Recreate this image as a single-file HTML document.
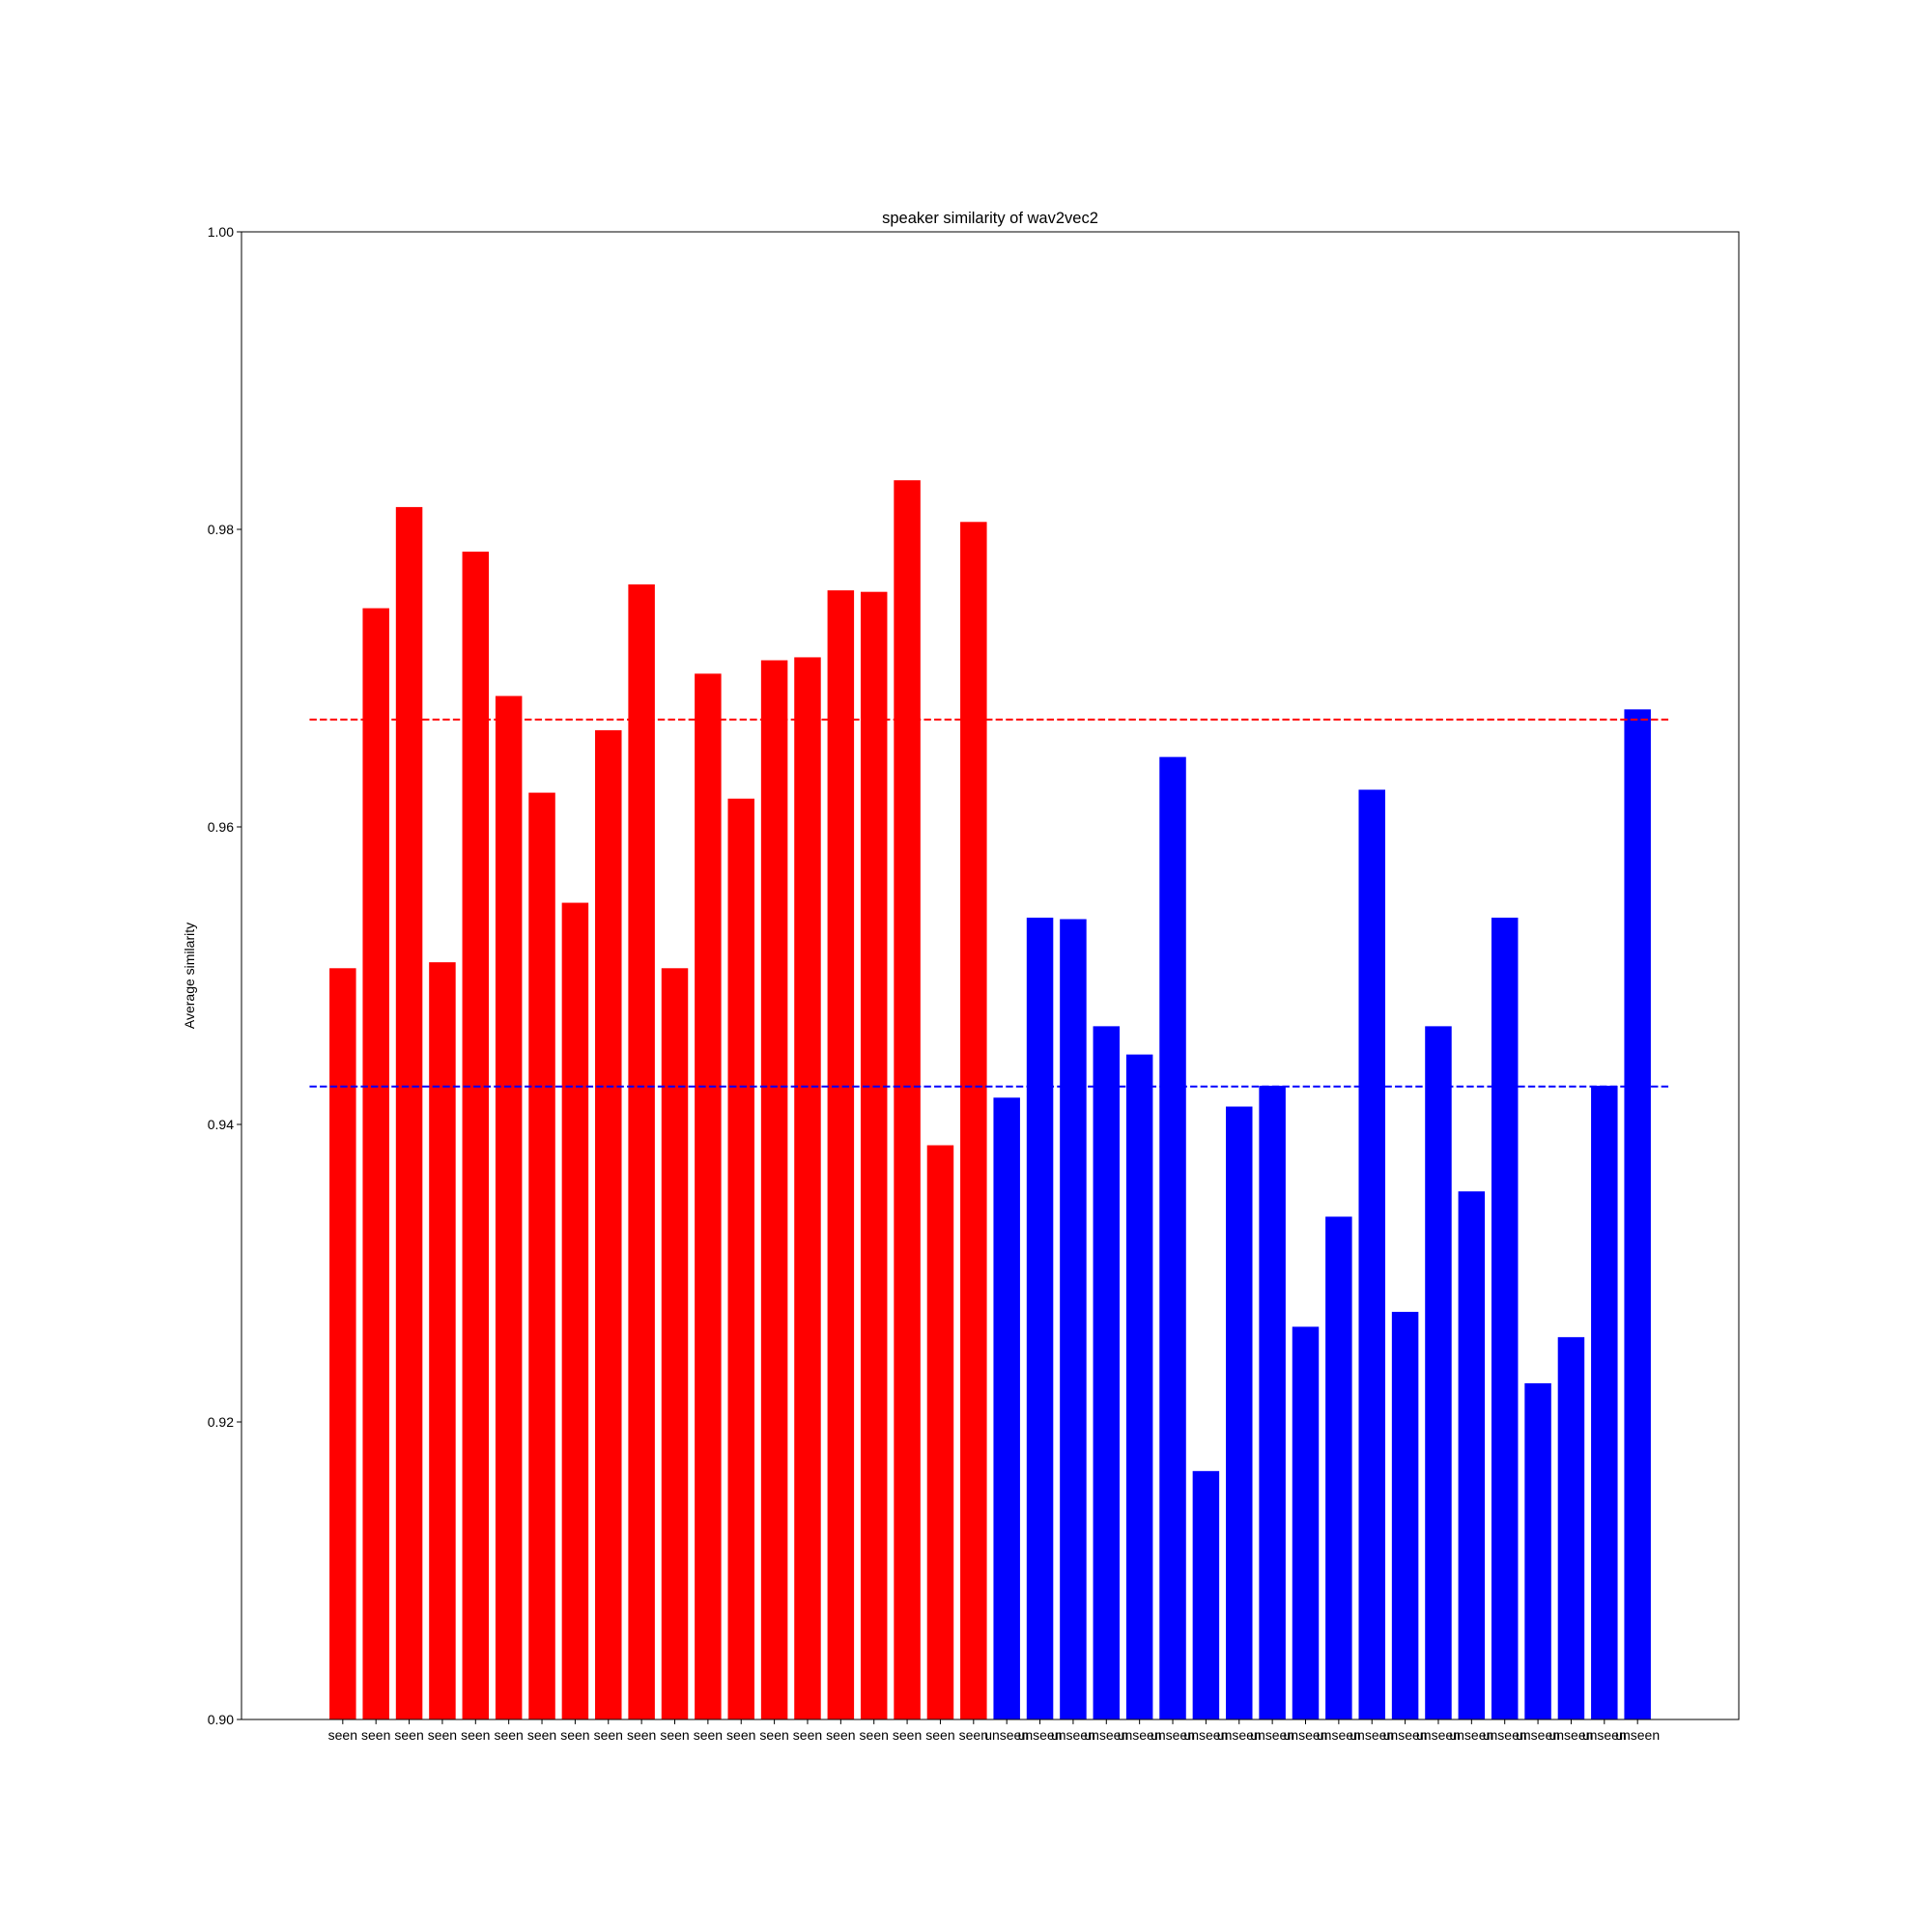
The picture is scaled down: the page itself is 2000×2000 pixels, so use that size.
<!DOCTYPE html>
<html><head><meta charset="utf-8"><style>body{margin:0;background:#fff}svg{display:block}text{font-family:"Liberation Sans","DejaVu Sans",sans-serif;font-size:14px;fill:#000}</style></head>
<body>
<svg id="chart" width="2000" height="2000" xmlns="http://www.w3.org/2000/svg">
<rect x="0" y="0" width="2000" height="2000" fill="#fff"/>
<g id="plot"></g>
<text x="1025" y="231" text-anchor="middle" style="font-size:16.5px">speaker similarity of wav2vec2</text>
<text x="0" y="0" transform="translate(201,1010) rotate(-90)" text-anchor="middle">Average similarity</text>
<rect x="250" y="240" width="1550" height="1540" fill="none" stroke="#000" stroke-width="1"/>
</svg>
<script>
const seenValues=[0.9505,0.9747,0.9815,0.9509,0.9785,0.9688,0.9623,0.9549,0.9665,0.9763,0.9505,0.9703,0.9619,0.9712,0.9714,0.9759,0.9758,0.9833,0.9386,0.9805];
const unseenValues=[0.9418,0.9539,0.9538,0.9466,0.9447,0.9647,0.9167,0.9412,0.9426,0.9264,0.9338,0.9625,0.9274,0.9466,0.9355,0.9539,0.9226,0.9257,0.9426,0.9679];
const yTicks=[0.90,0.92,0.94,0.96,0.98,1.00];
const yTickLabels=["0.90","0.92","0.94","0.96","0.98","1.00"];
const NS="http://www.w3.org/2000/svg";
const L=250,R=1800,T=240,B=1780,xmin=-3.05,xmax=42.05,ymin=0.9,ymax=1.0;
const sx=v=>L+(v-xmin)/(xmax-xmin)*(R-L);
const sy=v=>B-(v-ymin)/(ymax-ymin)*(B-T);
const g=document.getElementById('plot');
function mk(tag,attrs){const e=document.createElementNS(NS,tag);for(const k in attrs)e.setAttribute(k,attrs[k]);g.appendChild(e);return e;}
const all=seenValues.map(v=>({v,c:'#ff0000',l:'seen'})).concat(unseenValues.map(v=>({v,c:'#0000ff',l:'unseen'})));
all.forEach((d,i)=>{
  const x0=sx(i-0.4),x1=sx(i+0.4);
  const r=mk('rect',{x:x0,y:sy(d.v),width:x1-x0,height:B-sy(d.v),fill:d.c});
  
  
  const tk=mk('line',{x1:sx(i),x2:sx(i),y1:B,y2:B+4.9,stroke:'#000'});
  
  
  const t=mk('text',{x:sx(i),y:B+21,'text-anchor':'middle'});
  t.textContent=d.l;
  
  
});
yTicks.forEach((v,i)=>{
  const tk=mk('line',{x1:L-4.9,x2:L,y1:sy(v),y2:sy(v),stroke:'#000'});
  
  
  const t=mk('text',{x:L-8,y:sy(v)+5,'text-anchor':'end'});
  t.textContent=yTickLabels[i];
  
  
});
const mean=a=>a.reduce((s,v)=>s+v,0)/a.length;
[[mean(seenValues),'#ff0000','seen-mean-line'],[mean(unseenValues),'#0000ff','unseen-mean-line']].forEach(m=>{
  const ln=mk('line',{x1:sx(-1),x2:sx(40),y1:sy(m[0]),y2:sy(m[0]),stroke:m[1],'stroke-width':2,'stroke-dasharray':'7.4,3.2'});
  
  
});
</script>
</body></html>
